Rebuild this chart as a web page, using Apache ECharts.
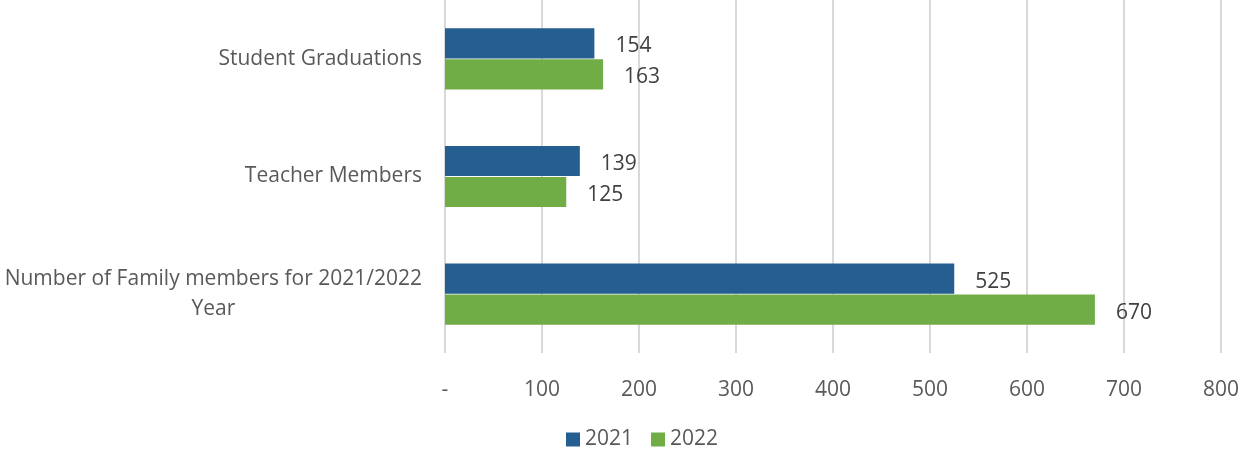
<!DOCTYPE html>
<html><head><meta charset="utf-8">
<script src="https://cdn.jsdelivr.net/npm/echarts@6/dist/echarts.min.js"></script>
<style>html,body{margin:0;padding:0;background:#fff}#c{width:1242px;height:460px}</style>
</head><body><div id="c"></div>
<script>
var categories = ['Student Graduations', 'Teacher Members', 'Number of Family members for 2021/2022 Year'];
var seriesNames = ['2021', '2022'];
var values2021 = [154, 139, 525];
var values2022 = [163, 125, 670];
var xTicks = {min: 0, max: 800, interval: 100};

var font = '"Open Sans", "Noto Sans", sans-serif';
var fs = 21;
var chart = echarts.init(document.getElementById('c'));
chart.setOption({
  animation: false,
  textStyle: {fontFamily: font},
  grid: {left: 445, right: 20, top: 0, bottom: 107, containLabel: false},
  legend: {
    bottom: 5, left: 561, itemWidth: 14, itemHeight: 14, itemGap: 18,
    icon: 'rect',
    textStyle: {fontSize: fs, color: '#595959', fontFamily: font},
    data: seriesNames
  },
  xAxis: {
    type: 'value', min: xTicks.min, max: xTicks.max, interval: xTicks.interval,
    axisLine: {show: false}, axisTick: {show: false},
    splitLine: {lineStyle: {color: '#d9d9d9', width: 2}},
    axisLabel: {
      margin: 27, fontSize: fs, color: '#595959', fontFamily: font,
      formatter: function (v) { return v === 0 ? '-' : String(v); }
    }
  },
  yAxis: {
    type: 'category', inverse: true, data: categories,
    axisLine: {show: false}, axisTick: {show: false},
    axisLabel: {
      margin: 23, fontSize: fs, color: '#595959', fontFamily: font, lineHeight: 30,
      formatter: function (v) {
        if (v.indexOf('2021/2022 Year') >= 0) {
          return '{a|Number of Family members for 2021/2022}\n{b|Year}';
        }
        return v;
      },
      rich: {
        a: {fontSize: fs, color: '#595959', fontFamily: font, lineHeight: 30},
        b: {fontSize: fs, color: '#595959', fontFamily: font, lineHeight: 30, width: 417, align: 'center'}
      }
    }
  },
  series: [
    {
      name: seriesNames[0], type: 'bar', data: values2021, barGap: '3%', barCategoryGap: '48%',
      itemStyle: {color: '#255e91'},
      label: {show: true, position: 'right', distance: 21, offset: [0, 3], fontSize: fs, color: '#404040', fontFamily: font}
    },
    {
      name: seriesNames[1], type: 'bar', data: values2022, barGap: '3%', barCategoryGap: '48%',
      itemStyle: {color: '#70ad47'},
      label: {show: true, position: 'right', distance: 21, offset: [0, 3], fontSize: fs, color: '#404040', fontFamily: font}
    }
  ]
});
</script></body></html>
